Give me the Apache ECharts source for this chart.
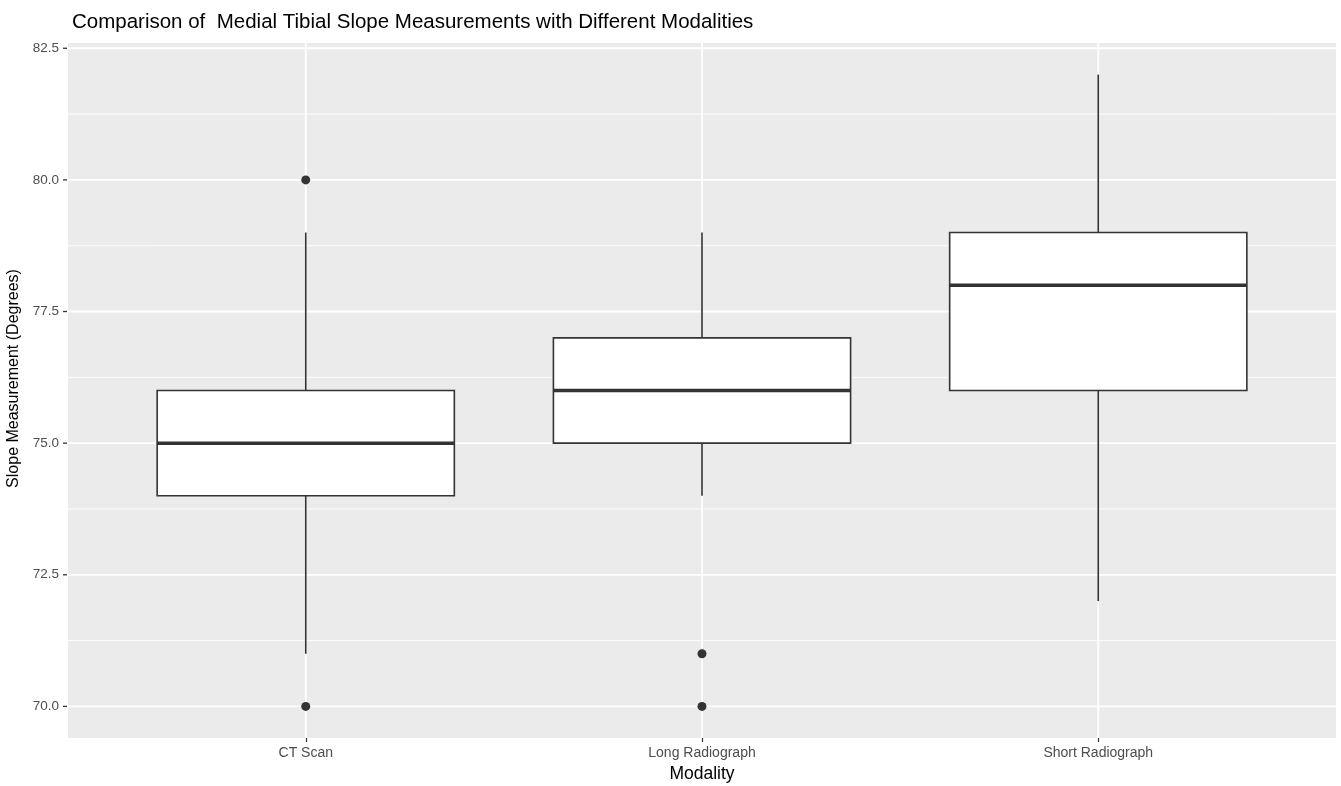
<!DOCTYPE html>
<html><head><meta charset="utf-8">
<script src="https://cdn.jsdelivr.net/npm/echarts@6/dist/echarts.min.js"></script>
<style>html,body{margin:0;padding:0;background:#fff}#c{width:1341px;height:786px}</style>
</head><body><div id="c"></div>
<script>
const categories = ['CT Scan', 'Long Radiograph', 'Short Radiograph'];
const whiskerLow = [71, 74, 72];
const q1 = [74, 75, 76];
const median = [75, 76, 78];
const q3 = [76, 77, 79];
const whiskerHigh = [79, 79, 82];
const outliers = [[0, 80], [0, 70], [1, 71], [1, 70]];
const yTicks = [70, 72.5, 75, 77.5, 80, 82.5];
const yMinor = [71.25, 73.75, 76.25, 78.75, 81.25];

const FONT = 'Liberation Sans';
const chart = echarts.init(document.getElementById('c'));
const catIdx = categories.map((c, i) => i);
const boxData = categories.map((c, i) => [i, whiskerLow[i], q1[i], median[i], q3[i], whiskerHigh[i]]);
const hGridData = yTicks.map(v => [v, 1]).concat(yMinor.map(v => [v, 0]));
const vGridData = catIdx.map(i => [i]);
const yTickData = yTicks.map(v => [v]);

chart.setOption({
  animation: false,
  backgroundColor: '#fff',
  title: {
    text: 'Comparison of  Medial Tibial Slope Measurements with Different Modalities',
    left: 67, top: 7,
    textStyle: {fontFamily: FONT, fontSize: 20.5, fontWeight: 'normal', color: '#000'}
  },
  grid: {left: 68, right: 5, top: 43, bottom: 48, show: true, backgroundColor: '#EBEBEB',
    borderWidth: 0, containLabel: false, outerBoundsMode: 'none'},
  xAxis: {
    type: 'value', min: -0.6, max: 2.6,
    axisLine: {show: false},
    axisTick: {show: true, length: 4, customValues: catIdx, lineStyle: {color: '#333', width: 1.2}},
    axisLabel: {fontFamily: FONT, fontSize: 14, color: '#4D4D4D', margin: 8, customValues: catIdx,
      formatter: v => categories[Math.round(v)]},
    splitLine: {show: false},
    name: 'Modality', nameLocation: 'middle', nameGap: 27,
    nameTextStyle: {fontFamily: FONT, fontSize: 17.5, color: '#000'}
  },
  yAxis: {
    type: 'value', min: 69.4, max: 82.6,
    axisLine: {show: false},
    axisTick: {show: false},
    axisLabel: {fontFamily: FONT, fontSize: 13.5, color: '#4D4D4D', margin: 9, customValues: yTicks,
      formatter: v => Number(v).toFixed(1)},
    splitLine: {show: false},
    name: 'Slope Measurement (Degrees)', nameLocation: 'middle', nameGap: 42, nameRotate: 90,
    nameTextStyle: {fontFamily: FONT, fontSize: 16, color: '#000', padding: [0, 0, 0, 24]}
  },
  series: [
    {
      type: 'custom', z: 1, silent: true, data: hGridData,
      encode: {y: 0}, clip: false,
      renderItem: function (params, api) {
        const cs = params.coordSys;
        const y = api.coord([0, api.value(0)])[1];
        const major = api.value(1) === 1;
        return {type: 'line', shape: {x1: cs.x, y1: y, x2: cs.x + cs.width, y2: y},
          style: {stroke: '#fff', lineWidth: major ? 1.8 : 0.9}};
      }
    },
    {
      type: 'custom', z: 1, silent: true, data: yTickData,
      encode: {y: 0}, clip: false,
      renderItem: function (params, api) {
        const cs = params.coordSys;
        const y = api.coord([0, api.value(0)])[1];
        return {type: 'line', shape: {x1: cs.x - 5, y1: y, x2: cs.x - 1, y2: y},
          style: {stroke: '#333', lineWidth: 1.3}};
      }
    },
    {
      type: 'custom', z: 1, silent: true, data: vGridData,
      encode: {x: 0},
      renderItem: function (params, api) {
        const cs = params.coordSys;
        const x = api.coord([api.value(0), 76])[0];
        return {type: 'line', shape: {x1: x, y1: cs.y, x2: x, y2: cs.y + cs.height},
          style: {stroke: '#fff', lineWidth: 1.8}};
      }
    },
    {
      type: 'custom', z: 3, data: boxData,
      encode: {x: 0, y: [1, 2, 3, 4, 5]},
      renderItem: function (params, api) {
        const i = api.value(0);
        const bw = api.size([0.75, 0])[0];
        const pLow = api.coord([i, api.value(1)]);
        const pQ1 = api.coord([i, api.value(2)]);
        const pMed = api.coord([i, api.value(3)]);
        const pQ3 = api.coord([i, api.value(4)]);
        const pHigh = api.coord([i, api.value(5)]);
        const x = pLow[0];
        const st = {stroke: '#333', lineWidth: 1.6};
        return {
          type: 'group',
          children: [
            {type: 'line', shape: {x1: x, y1: pLow[1], x2: x, y2: pQ1[1]}, style: st},
            {type: 'line', shape: {x1: x, y1: pQ3[1], x2: x, y2: pHigh[1]}, style: st},
            {type: 'rect', shape: {x: x - bw / 2, y: pQ3[1], width: bw, height: pQ1[1] - pQ3[1]},
              style: {fill: '#fff', stroke: '#333', lineWidth: 1.6}},
            {type: 'line', shape: {x1: x - bw / 2, y1: pMed[1], x2: x + bw / 2, y2: pMed[1]},
              style: {stroke: '#333', lineWidth: 3.5}}
          ]
        };
      }
    },
    {
      type: 'scatter', z: 4, data: outliers, symbolSize: 9,
      itemStyle: {color: '#333', opacity: 1}
    }
  ]
});
</script></body></html>
